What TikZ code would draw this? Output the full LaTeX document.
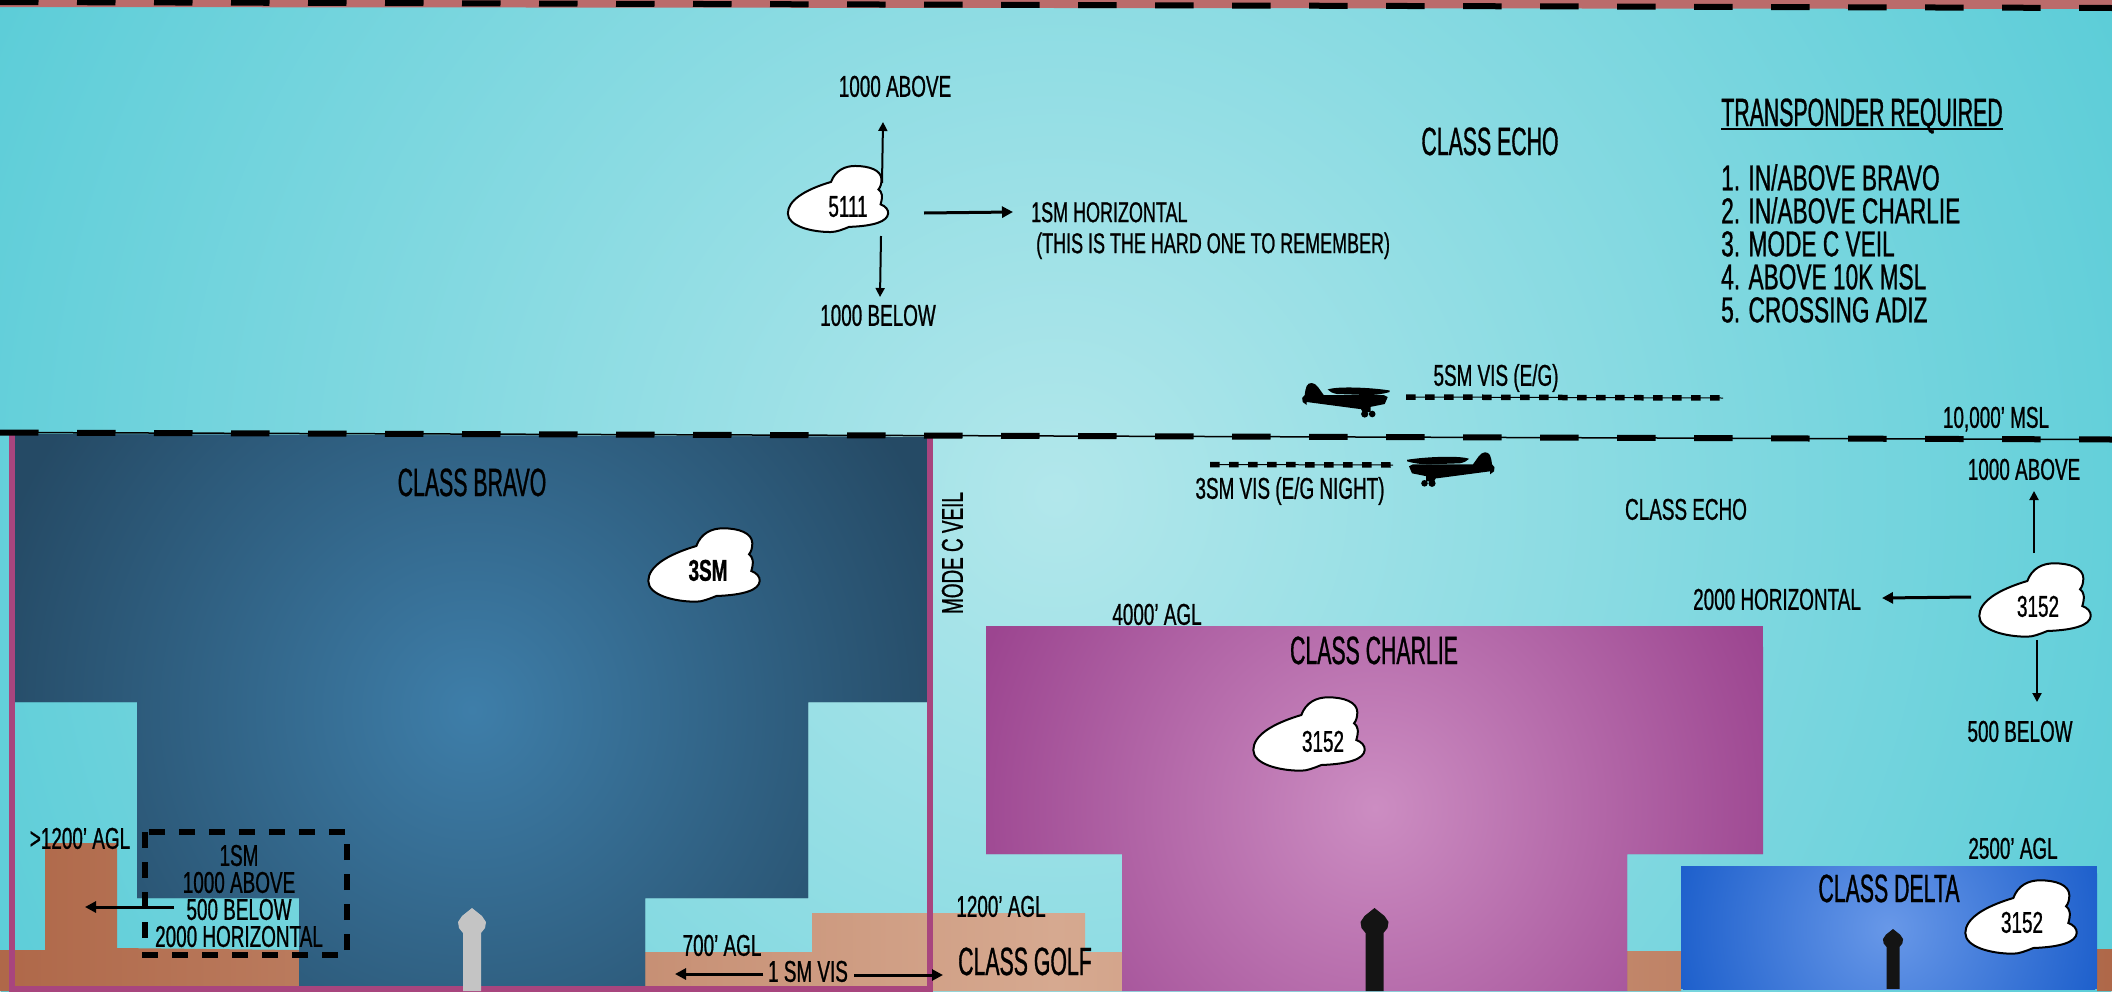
\documentclass[tikz,border=0pt]{standalone}
\usepackage{fontspec}
\setmainfont[FakeStretch=0.63,FakeBold=0.8]{Liberation Sans}
\newfontfamily\bigfont[FakeStretch=0.54,FakeBold=0.8]{Liberation Sans}
\usetikzlibrary{arrows.meta,positioning,calc}

\definecolor{skyin}{HTML}{B2E7EB}
\definecolor{skyout}{HTML}{5CCDD8}
\definecolor{bravoin}{HTML}{3E7EA9}
\definecolor{bravoout}{HTML}{254A65}
\definecolor{charliein}{HTML}{CC8DC2}
\definecolor{charlieout}{HTML}{9C4590}
\definecolor{deltain}{HTML}{6898E8}
\definecolor{deltaout}{HTML}{1E60CC}
\definecolor{groundin}{HTML}{D6A990}
\definecolor{groundout}{HTML}{AF6849}
\definecolor{veil}{HTML}{A8457E}
\definecolor{redtop}{HTML}{BB6B6B}

\begin{document}
\begin{tikzpicture}[
    x=1pt, y=-1pt,
    lbl/.style={inner sep=0pt, text height=21.5pt, text depth=0pt, font=\fontsize{30}{30}\selectfont},
    lblbig/.style={inner sep=0pt, text height=28pt, text depth=0pt, font=\bigfont\fontsize{39.4}{39.4}\selectfont},
    lines/.style={inner sep=0pt, align=center, font=\fontsize{30}{27}\selectfont},
    arrowthin/.style={-{Triangle[length=9pt,width=9pt]}, line width=2pt},
    arrowthick/.style={-{Triangle[length=11pt,width=11pt]}, line width=3pt},
    dashlong/.style={line width=6pt, dash pattern=on 38.5pt off 38.5pt},
    dashshort/.style={line width=5.5pt, dash pattern=on 9.5pt off 9.5pt},
    cloud/.pic={
        \draw[fill=white, line width=2pt] (-7.7,-19) .. controls (-3,-32) and (8,-36.7) .. (19,-36.7)
            .. controls (35,-36.7) and (48,-32) .. (48.3,-22) .. controls (48.5,-17) and (47,-13) .. (45,-10.7)
            .. controls (49,-8) and (50,-3) .. (47.3,6) .. controls (53,8) and (56,12) .. (55.7,16)
            .. controls (55,25) and (40,30) .. (12.3,31) .. controls (5,34) and (-2,36.7) .. (-8,36.7)
            .. controls (-30,36.7) and (-55.7,30) .. (-55.7,16) .. controls (-55.7,2) and (-38,-10) .. (-7.7,-19) -- cycle;
    },
    plane/.pic={
        \fill[black] (-44.5,-2) -- (-42,-5) .. controls (-41,-13) and (-40,-17) .. (-35,-17)
            .. controls (-30,-17) and (-27,-10) .. (-23,-5) -- (37,-5) -- (41,-3) -- (38,4) -- (13,9)
            -- (-40,2) -- (-40,5) -- (-44,2) -- cycle;
        \fill[black] (-19,-10.5) .. controls (-10,-14) and (25,-12.5) .. (43,-9.5) -- (43,-8)
            .. controls (36,-6) and (30,-5) .. (20,-5) -- (-10,-6) .. controls (-14,-7) and (-17,-8) .. (-19,-10.5) -- cycle;
        \fill[black] (18,14) circle (3.6);
        \fill[black] (25.5,14) circle (3.3);
        \fill[black] (13,7) -- (24,5) -- (24,12) -- (16,12) -- cycle;
    },
    tower/.pic={
        \fill[pic actions] (0,0) -- (10,8) -- (14,14) -- (13,20) -- (9,25) -- (9,83) -- (-9,83) -- (-9,25) -- (-13,20) -- (-14,14) -- (-10,8) -- cycle;
    },
]
\useasboundingbox (0,0) rectangle (2112,991);
% sky and top strip
\begin{scope}
\clip (0,0) rectangle (2112,991);
\shade[inner color=skyin, outer color=skyout] (1056,495) circle (1166);
\end{scope}
\fill[redtop] (0,0) -- (2112,0) -- (2112,9) -- (0,7) -- cycle;

% ground
\shade[left color=groundout, right color=groundout, middle color=groundin]
    (0,950) -- (45,950) -- (45,843) -- (117,843) -- (117,948) -- (299,950) -- (299,991) -- (0,991) -- cycle
    (645,952) -- (812,952) -- (812,913) -- (1085,913) -- (1085,952) -- (1122,952) -- (1122,991) -- (645,991) -- cycle
    (1627,951) -- (1681,951) -- (1681,991) -- (1627,991) -- cycle
    (2097,949) -- (2112,949) -- (2112,991) -- (2097,991) -- cycle;

% airspace blocks
\begin{scope}
\clip (14,434) -- (930,437) -- (930,702) -- (808,702) -- (808,898) -- (645,898)
    -- (645,986) -- (299,986) -- (299,898) -- (137,898) -- (137,702) -- (14,702) -- cycle;
\fill[bravoout] (14,434) rectangle (930,986);
\shade[inner color=bravoin, outer color=bravoout] (472,710) circle (500);
\end{scope}
\begin{scope}
\clip (986,626) -- (1763,626) -- (1763,854) -- (1627,854) -- (1627,991)
    -- (1122,991) -- (1122,854) -- (986,854) -- cycle;
\fill[charlieout] (986,626) rectangle (1763,991);
\shade[inner color=charliein, outer color=charlieout] (1375,808) circle (420);
\end{scope}
\begin{scope}
\clip (1681,866) rectangle (2097,989);
\fill[deltaout] (1681,866) rectangle (2097,989);
\shade[inner color=deltain, outer color=deltaout] (1889,928) circle (215);
\end{scope}
\draw[veil, line width=5.5pt] (12,434) -- (12,989) -- (930,989) -- (930,434);

% altitude lines
\draw[dashlong] (0,2) -- (2112,8);
\draw[line width=1.5pt] (0,432.5) -- (2112,439.5);
\draw[dashlong] (0,432.5) -- (2112,439.5);
\draw[line width=1pt] (1406,397) -- (1723,398);
\draw[dashshort] (1406,397) -- (1723,398);
\draw[line width=1pt] (1210,464.5) -- (1393,465);
\draw[dashshort] (1210,464.5) -- (1393,465);
\draw[line width=6pt, dash pattern=on 16pt off 14pt] (145,832) rectangle (347,955);

\pic (plane_high) at (1346.7,400) {plane};
\pic[xscale=-1] (plane_low) at (1450,469.3) {plane};

\pic[fill={rgb,255:red,196;green,196;blue,196}] (tower_bravo) at (472,908) {tower};
\pic[fill={rgb,255:red,20;green,20;blue,20}] (tower_charlie) at (1374.5,908) {tower};
\pic[fill={rgb,255:red,20;green,20;blue,20}, scale=0.72] (tower_delta) at (1893,929) {tower};

\pic[scale=0.9] (cloud_echo) at (838,199) {cloud};
\pic (cloud_bravo) at (704,565) {cloud};
\pic (cloud_charlie) at (1309,734) {cloud};
\pic (cloud_low) at (2035,600) {cloud};
\pic (cloud_delta) at (2021,917) {cloud};

\node[lbl] (num_echo) at (848,206) {5111};
\node[lbl] (num_bravo) at (708,570) {\bfseries 3SM};
\node[lbl] (num_charlie) at (1323,741) {3152};
\node[lbl] (num_low) at (2038,606) {3152};
\node[lbl] (num_delta) at (2022,922) {3152};

% upper echo
\node[lblbig] (echo_top) at (1490,141) {CLASS ECHO};
\node[lblbig] (trans_title) at (1862,112) {TRANSPONDER REQUIRED};
\draw[line width=1.5pt] ($(trans_title.south west)+(0,3)$) -- ($(trans_title.south east)+(0,3)$);
\node[inner sep=0pt, align=left, anchor=north west, font=\fontsize{36}{33}\selectfont] (trans_list) at (1721,164)
    {1. IN/ABOVE BRAVO\\2. IN/ABOVE CHARLIE\\3. MODE C VEIL\\4. ABOVE 10K MSL\\5. CROSSING ADIZ};
\node[lbl] (echo_above) at (895,86) {1000 ABOVE};
\node[lbl] (echo_below) at (878,315) {1000 BELOW};
\node[inner sep=0pt, align=left, anchor=north west, font=\fontsize{28.5}{31}\selectfont] (echo_horiz) at (1031,202)
    {1SM HORIZONTAL\\\hspace*{5pt}(THIS IS THE HARD ONE TO REMEMBER)};
\coordinate (echo_up_a) at (882,183);
\coordinate (echo_up_b) at (883,122);
\coordinate (echo_right_a) at (924,213);
\coordinate (echo_right_b) at (1013,212);
\coordinate (echo_down_a) at (881,236);
\coordinate (echo_down_b) at (880,297);
\draw[arrowthin] (echo_up_a) -- (echo_up_b);
\draw[arrowthick] (echo_right_a) -- (echo_right_b);
\draw[arrowthin] (echo_down_a) -- (echo_down_b);

\node[lbl] (vis_five) at (1496,375) {5SM VIS (E/G)};
\node[lbl] (vis_three) at (1290,488) {3SM VIS (E/G NIGHT)};
\node[lbl] (msl) at (1996,417) {10,000' MSL};

% lower echo
\node[lbl] (echo_low) at (1686,509) {CLASS ECHO};
\node[lbl] (low_above) at (2024,469) {1000 ABOVE};
\node[lbl] (low_horiz) at (1777,599) {2000 HORIZONTAL};
\node[lbl] (low_below) at (2020,731) {500 BELOW};
\coordinate (low_up_a) at (2034,553);
\coordinate (low_up_b) at (2034,491);
\coordinate (low_left_a) at (1971,597);
\coordinate (low_left_b) at (1882,598);
\coordinate (low_down_a) at (2037,640);
\coordinate (low_down_b) at (2037,702);
\draw[arrowthin] (low_up_a) -- (low_up_b);
\draw[arrowthick] (low_left_a) -- (low_left_b);
\draw[arrowthin] (low_down_a) -- (low_down_b);

% bravo
\node[lblbig] (bravo) at (472,482) {CLASS BRAVO};
\node[lbl, rotate=90] (mode_c) at (952,553) {MODE C VEIL};
\node[lbl] (agl_left) at (80,838) {>1200' AGL};
\node[lines] (box_text) at (239,896) {1SM\\1000 ABOVE\\500 BELOW\\2000 HORIZONTAL};
\coordinate (box_left_a) at (174,907);
\coordinate (box_left_b) at (85,907);
\draw[arrowthick] (box_left_a) -- (box_left_b);

% golf
\node[lbl] (agl_seven) at (722,945) {700' AGL};
\node[lbl] (agl_twelve) at (1001,906) {1200' AGL};
\node[lbl] (vis_one) at (808,971) {1 SM VIS};
\node[lblbig] (golf) at (1025,961) {CLASS GOLF};
\coordinate (vis_left_a) at (763,974);
\coordinate (vis_left_b) at (675,974);
\coordinate (vis_right_a) at (854,975);
\coordinate (vis_right_b) at (943,975);
\draw[arrowthick] (vis_left_a) -- (vis_left_b);
\draw[arrowthick] (vis_right_a) -- (vis_right_b);

% charlie and delta
\node[lblbig] (charlie) at (1374,650) {CLASS CHARLIE};
\node[lbl] (agl_charlie) at (1157,614) {4000' AGL};
\node[lbl] (agl_delta) at (2013,848) {2500' AGL};
\node[lblbig] (delta) at (1889,888) {CLASS DELTA};
\end{tikzpicture}
\end{document}
